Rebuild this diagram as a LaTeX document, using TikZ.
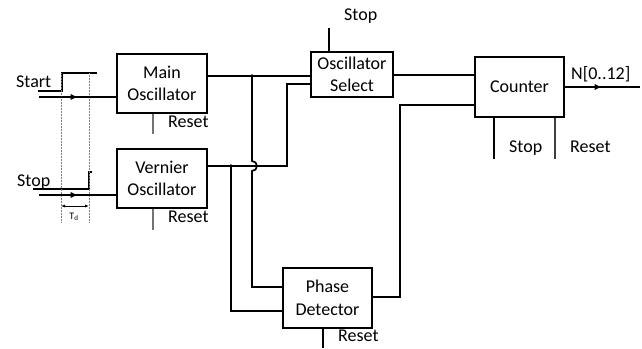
\documentclass[tikz,border=0pt]{standalone}
\usepackage{fontspec}
\setmainfont{Carlito}
\usetikzlibrary{arrows.meta}
\begin{document}
\begin{tikzpicture}[x=1pt,y=-1pt,
  blk/.style={draw,line width=1.6pt,align=center,font=\fontsize{18}{22.5}\selectfont,inner sep=0pt},
  wire/.style={line width=1.7pt},
  rst/.style={line width=1.2pt,black!55},
  lbl/.style={font=\fontsize{18}{22}\selectfont,inner sep=0pt,anchor=base west},
  tip/.style={-{Triangle[length=6.5pt,width=5.5pt]}},
  dotl/.style={densely dotted,line width=0.5pt,black!50}]
\useasboundingbox (0,0) rectangle (642,348);
% blocks
\node[blk,minimum width=90pt,minimum height=59pt] (main) at (162,83.5) {Main\\Oscillator};
\node[blk,minimum width=90pt,minimum height=59pt] (vern) at (162,178.5) {Vernier\\Oscillator};
\node[blk,minimum width=82pt,minimum height=45pt] (osel) at (352,74.5) {Oscillator\\Select};
\node[blk,minimum width=89pt,minimum height=60pt] (cnt) at (519.5,87) {Counter};
\node[blk,minimum width=89pt,minimum height=60pt] (pd) at (327.5,298) {Phase\\Detector};
% input waveforms
\draw[wire] (38,91) -- (62,91) -- (62,73) -- (97,73);
\draw[wire] (33,189) -- (89,189) -- (89,172) -- (92,172);
\draw[dotl] (61,73) -- (61,222);
\draw[dotl] (89,73) -- (89,222);
\draw[{Latex[length=4pt,width=3pt]}-{Latex[length=4pt,width=3pt]},line width=0.8pt] (61,206) -- (89,206);
\node[font=\fontsize{10}{11}\selectfont,inner sep=0pt] (td) at (74,217) {T\textsubscript{d}};
\node[lbl] (startl) at (16,87) {Start};
\node[lbl] (stopl) at (17,186) {Stop};
% input arrows
\coordinate (sa) at (39,97);
\coordinate (sb) at (39,195);
\draw[wire,tip] (sa) -- (77,97);
\draw[wire] (75,97) -- (main.west|-sa);
\draw[wire,tip] (sb) -- (77,195);
\draw[wire] (75,195) -- (vern.west|-sb);
% reset lines for oscillators
\coordinate (mr) at (153,134);
\coordinate (vr) at (153,230);
\draw[rst] (main.south-|mr) -- (mr);
\draw[rst] (vern.south-|vr) -- (vr);
\node[lbl] (mrl) at (168,127) {Reset};
\node[lbl] (vrl) at (168,222) {Reset};
% main osc -> osel
\coordinate (m1) at (207,76);
\coordinate (j1) at (252,76);
\draw[wire] (main.east|-m1) -- (osel.west|-m1);
\fill (j1) circle (1.8pt);
\draw[wire] (j1) -- (252,161) arc[start angle=-90,end angle=90,radius=5] -- (252,287) -- (pd.west|-0,287);
% vernier -> osel
\coordinate (v1) at (207,166);
\coordinate (j2) at (231,166);
\draw[wire] (vern.east|-v1) -- (287,166) -- (287,84) -- (osel.west|-0,84);
\fill (j2) circle (1.8pt);
\draw[wire] (j2) -- (231,311) -- (pd.west|-0,311);
% osel stop
\coordinate (os) at (329,28);
\draw[wire,line width=1.2pt] (osel.north-|os) -- (os);
\node[lbl] (osl) at (344,20) {Stop};
% osel -> counter
\draw[wire] (osel.east|-0,75) -- (cnt.west|-0,75);
% pd -> counter
\draw[wire] (pd.east|-0,297) -- (400,297) -- (400,105) -- (cnt.west|-0,105);
% pd reset
\coordinate (pr) at (323,348);
\draw[wire,line width=1.2pt] (pd.south-|pr) -- (pr);
\node[lbl] (prl) at (338,341) {Reset};
% counter output
\coordinate (co) at (640,87);
\draw[wire,tip] (cnt.east) -- (601,87);
\draw[wire] (599,87) -- (co);
\node[lbl] (nl) at (571,79) {N[0..12]};
% counter stop / reset
\coordinate (cs) at (494,159);
\coordinate (cr) at (555,159);
\draw[wire,line width=1.3pt] (cnt.south-|cs) -- (cs);
\draw[wire,line width=1.3pt,black!75] (cnt.south-|cr) -- (cr);
\node[lbl] (csl) at (509,152) {Stop};
\node[lbl] (crl) at (570,152) {Reset};
\end{tikzpicture}
\end{document}
